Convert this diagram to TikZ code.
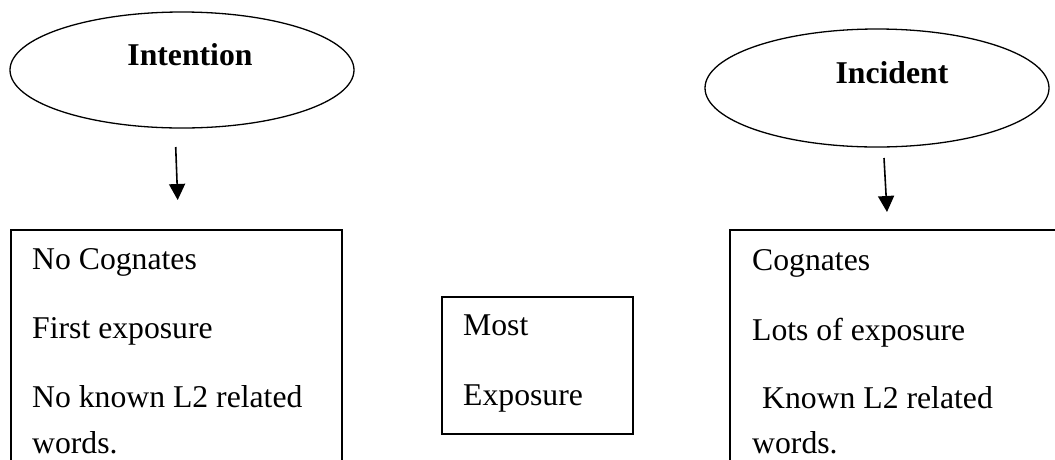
\documentclass[tikz,border=0pt]{standalone}
\usepackage{fontspec}
\setmainfont{Liberation Serif}
\usetikzlibrary{arrows.meta,shapes.geometric}
\begin{document}
\begin{tikzpicture}[x=1pt,y=-1pt,
  oval/.style={draw,line width=1.3pt,ellipse,minimum width=#1,inner sep=0pt},
  box/.style={draw,line width=1.6pt},
  txt/.style={anchor=base west,inner sep=0pt,font=\fontsize{31.7}{38}\selectfont},
  head/.style={anchor=base,inner sep=0pt,font=\fontsize{31.7}{38}\selectfont\bfseries},
  arr/.style={line width=1.6pt,-{Triangle[width=16pt,length=16pt]}}]
\useasboundingbox (0,0) rectangle (1055,459);
\clip (0,0) rectangle (1055,459);
% ellipses
\node[oval=344pt,minimum height=116pt] (e1) at (182,70) {};
\node[oval=344pt,minimum height=118pt] (e2) at (877,88) {};
\node[head] (t1) at (190,65) {Intention};
\node[head] (t2) at (892,83) {Incident};
% boxes (cut off by the picture edge)
\draw[box] (11,230) rectangle (342,490);
\draw[box] (442,297) rectangle (633,434);
\draw[box] (730,230) rectangle (1080,490);
% arrows
\coordinate (a1s) at (175.7,147);
\coordinate (a1e) at (177.7,200);
\coordinate (a2s) at (884,158);
\coordinate (a2e) at (887,212);
\draw[arr] (a1s) -- (a1e);
\draw[arr] (a2s) -- (a2e);
% texts
\node[txt] (l1) at (32,269) {No Cognates};
\node[txt] (l2) at (32,338) {First exposure};
\node[txt] (l3) at (32,407) {No known L2 related};
\node[txt] (l4) at (32,453) {words.};
\node[txt] (m1) at (463,335) {Most};
\node[txt] (m2) at (463,405) {Exposure};
\node[txt] (r1) at (752,270) {Cognates};
\node[txt] (r2) at (752,340) {Lots of exposure};
\node[txt] (r3) at (762,408) {Known L2 related};
\node[txt] (r4) at (752,453) {words.};
\end{tikzpicture}
\end{document}
